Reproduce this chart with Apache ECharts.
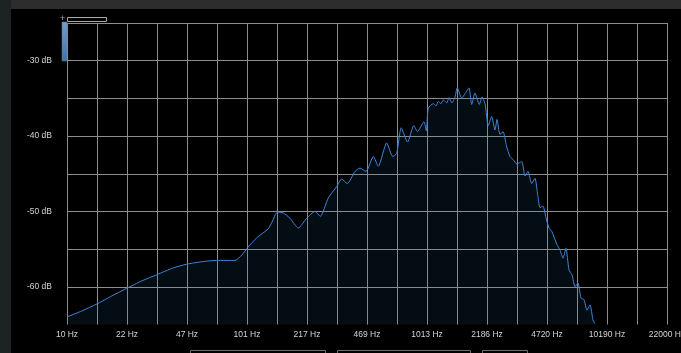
<!DOCTYPE html>
<html>
<head>
<meta charset="utf-8">
<script src="https://cdn.jsdelivr.net/npm/echarts@6/dist/echarts.min.js"></script>
<style>
  html, body { margin: 0; padding: 0; background: #000; }
  #chart { width: 681px; height: 353px; }
</style>
</head>
<body>
<div id="chart"></div>
<script>
// spectrum (Hz / dB)
const freqHz = [
  10, 12.1, 14.6, 17.8, 21.5, 26.2, 31.6, 39, 46.4, 57.2,
  68.2, 86.3, 94, 102.3, 114, 132.2, 138.7, 148.5, 160.3, 174.7,
  194.3, 216.4, 240.7, 257.7, 285.5, 318, 339, 364.2, 402.2, 428.8,
  463.1, 508.6, 542.3, 603.8, 652.2, 686.6, 727.4, 788.5, 855.1, 894.4,
  974.3, 1003.7, 1029.7, 1098, 1136.5, 1170.5, 1211.6, 1248, 1303.6, 1342.8,
  1395.4, 1450.1, 1493.5, 1580.1, 1648.5, 1735.4, 1796.4, 1874.2, 1980.6, 2050.2,
  2130.6, 2222.8, 2321.6, 2422.1, 2485.3, 2583, 2684.5, 2807.8, 2936.8, 3052,
  3200.6, 3338.9, 3425.3, 3559.7, 3699.5, 3879, 4047.3, 4168.3, 4314.7, 4484,
  4660.5, 4843, 5033, 5365, 5576, 5794, 6021, 6259, 6505, 6761,
  7024, 7302, 7588, 7885, 8193, 8514, 8739
]
const levelDb = [
  -64.0, -63.2, -62.3, -61.2, -60.2, -59.2, -58.4, -57.5, -57.0, -56.65,
  -56.5, -56.5, -55.8, -54.7, -53.5, -52.3, -51.4, -50.1, -50.2, -50.9,
  -52.2, -50.9, -50.0, -50.65, -48.2, -46.7, -45.7, -46.3, -44.7, -44.25,
  -44.7, -42.7, -44.0, -40.9, -42.7, -42.3, -38.9, -40.8, -38.6, -39.4,
  -38.1, -39.3, -36.3, -35.7, -36.0, -35.4, -35.7, -35.2, -35.6, -34.9,
  -35.6, -34.8, -33.6, -34.95, -34.4, -33.6, -35.8, -34.3, -35.8, -34.8,
  -35.7, -38.6, -37.4, -39.2, -37.8, -39.8, -39.4, -41.3, -42.75, -43.1,
  -43.7, -43.5, -43.4, -45.3, -44.7, -46.3, -45.6, -47.4, -49.5, -49.3,
  -50.85, -52.2, -52.7, -54.4, -55.1, -56.2, -54.9, -57.75, -58.4, -59.97,
  -59.5, -61.5, -61.7, -63.1, -62.4, -64.4, -64.9
]
const freqLabels = ['10 Hz', '22 Hz', '47 Hz', '101 Hz', '217 Hz', '469 Hz',
  '1013 Hz', '2186 Hz', '4720 Hz', '10190 Hz', '22000 Hz']

const F_MIN = 10
const F_MAX = 22000
const STEPS = 20 // grid lines: half of a label step

// log frequency -> position 0..20 on the axis
function logPos(f) {
  return STEPS * Math.log(f / F_MIN) / Math.log(F_MAX / F_MIN)
}

const points = freqHz.map((f, i) => [logPos(f), levelDb[i]])

const chart = echarts.init(document.getElementById('chart'))
const gridColor = '#8e8e8e'
const labelFont = { color: '#d4d4d4', fontSize: 8.5, fontFamily: 'Liberation Sans, Arial, sans-serif' }

chart.setOption({
  backgroundColor: '#000',
  animation: false,
  grid: { left: 67, right: 14, top: 23, bottom: 28.5, containLabel: false, outerBoundsMode: 'none' },
  xAxis: {
    type: 'value',
    min: 0,
    max: STEPS,
    interval: 1,
    axisLine: { show: false },
    axisTick: { show: false },
    axisLabel: {
      ...labelFont,
      margin: 6,
      showMaxLabel: true,
      formatter: (v) => (v % 2 === 0 ? freqLabels[v / 2] : '')
    },
    splitLine: { lineStyle: { color: gridColor, width: 1 } }
  },
  yAxis: {
    type: 'value',
    min: -65,
    max: -25,
    interval: 5,
    axisLine: { show: false },
    axisTick: { show: false },
    axisLabel: {
      ...labelFont,
      margin: 15,
      formatter: (v) => (v % 10 === 0 ? v + ' dB' : '')
    },
    splitLine: { showMinLine: false, lineStyle: { color: gridColor, width: 1 } }
  },
  series: [{
    type: 'line',
    data: points,
    smooth: 0.2,
    symbol: 'none',
    clip: true,
    lineStyle: { color: '#3f86d6', width: 1 },
    areaStyle: { color: 'rgba(40,110,190,0.15)', origin: 'start' },
    z: 3
  }],
  // frame and the little widgets around the plot
  graphic: [
    { type: 'rect', shape: { x: 0, y: 0, width: 681, height: 9 }, style: { fill: '#2d2d2d' }, z: -10 },
    { type: 'rect', shape: { x: 0, y: 0, width: 11, height: 353 }, style: { fill: '#1d2225' }, z: -10 },
    { type: 'rect', shape: { x: 11, y: 9, width: 670, height: 344, r: [8, 8, 0, 0] }, style: { fill: '#000' }, z: -9 },
    {
      type: 'rect', shape: { x: 62, y: 22, width: 5, height: 39 },
      style: {
        fill: new echarts.graphic.LinearGradient(0, 0, 0, 1, [
          { offset: 0, color: '#6f9fd2' },
          { offset: 1, color: '#3a74b4' }
        ]),
        stroke: '#777', lineWidth: 0.5
      }, z: 10
    },
    { type: 'rect', shape: { x: 67.5, y: 17.5, width: 39, height: 4 }, style: { fill: 'none', stroke: '#a8a8a8', lineWidth: 1 }, z: 10 },
    { type: 'text', style: { x: 60, y: 14, text: '+', fill: '#aaa', fontSize: 9, fontFamily: 'Liberation Sans' }, z: 10 },
    { type: 'rect', shape: { x: 190.5, y: 350.5, width: 135, height: 8 }, style: { fill: 'none', stroke: '#6a6a6a', lineWidth: 1 }, z: 10 },
    { type: 'rect', shape: { x: 337.5, y: 350.5, width: 133, height: 8 }, style: { fill: 'none', stroke: '#6a6a6a', lineWidth: 1 }, z: 10 },
    { type: 'rect', shape: { x: 482.5, y: 350.5, width: 45, height: 8 }, style: { fill: 'none', stroke: '#6a6a6a', lineWidth: 1 }, z: 10 }
  ]
})

window.addEventListener('resize', () => chart.resize())
</script>
</body>
</html>
